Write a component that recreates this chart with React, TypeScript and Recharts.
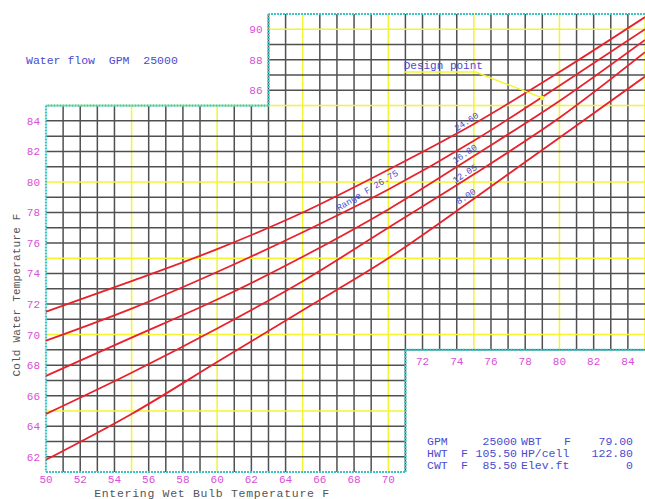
import { Line, LineChart, ReferenceDot, ReferenceLine, XAxis, YAxis } from "recharts";

// entering wet bulb (F) and cold water temp (F) for each range curve, top to bottom
const wbt = [50, 55, 60, 65, 70, 75, 80, 85];
const range1 = [71.5, 73.5, 75.6, 78.0, 80.8, 83.8, 87.2, 90.8];
const range2 = [69.6, 71.7, 74.1, 76.7, 79.5, 82.7, 86.3, 90.0];
const range3 = [67.3, 69.8, 72.3, 75.1, 78.2, 81.7, 85.3, 89.3];
const range4 = [64.8, 67.5, 70.4, 73.5, 77.0, 80.5, 84.2, 88.5];
const range5 = [61.8, 64.8, 68.2, 71.6, 75.0, 78.9, 82.9, 86.9];
const rangeLabels = ["Range F 26.75", "24.60", "16.80", "12.05", "8.00"];

const xTicksLow = [50, 52, 54, 56, 58, 60, 62, 64, 66, 68, 70];
const xTicksHigh = [72, 74, 76, 78, 80, 82, 84];
const yTicksLow = [62, 64, 66, 68, 70, 72, 74, 76, 78, 80, 82, 84];
const yTicksHigh = [86, 88, 90];

// design conditions
const gpm = 25000;
const designWbt = 79;
const hwt = 105.5;
const cwt = 85.5;
const hpPerCell = 122.8;
const elevFt = 0;

const MONO = "'Liberation Mono', 'DejaVu Sans Mono', monospace";
const PINK = "#d84ed8";
const BLUE = "#4a4ad0";
const GRID = "#505050";
const YELLOW = "#f4f430";
const CYAN = "#3cc4c4";
const RED = "#e8222c";

const dotLabel =
    (text: string, dx: number, dy: number, anchor: string, extra: any = {}) =>
    (props: any) => {
        const vb = props.viewBox || {};
        const cx = (vb.x ?? 0) + (vb.width ?? 0) / 2 + dx;
        const cy = (vb.y ?? 0) + (vb.height ?? 0) / 2 + dy;
        const { angle, ...rest } = extra;
        return (
            <text
                x={cx}
                y={cy}
                textAnchor={anchor}
                transform={angle ? `rotate(${angle} ${cx} ${cy})` : undefined}
                fontFamily={MONO}
                fontSize={11}
                fill={PINK}
                {...rest}
            >
                {text}
            </text>
        );
    };

export default function App() {
    const data = wbt.map((x, i) => ({
        x,
        r1: range1[i],
        r2: range2[i],
        r3: range3[i],
        r4: range4[i],
        r5: range5[i],
    }));

    // grid segments clipped to the stepped outline
    const grid: any[] = [];
    for (let x = 51; x <= 85; x++) {
        const y0 = x > 71 ? 69 : 61;
        const y1 = x < 63 ? 85 : 91;
        grid.push(
            <ReferenceLine
                key={"gx" + x}
                segment={[{ x, y: y0 }, { x, y: y1 }]}
                stroke={x % 5 === 0 ? YELLOW : GRID}
                strokeWidth={1.5}
            />
        );
    }
    for (let y = 62; y <= 90; y++) {
        const x0 = y > 85 ? 63 : 50;
        const x1 = y < 69 ? 71 : 85;
        grid.push(
            <ReferenceLine
                key={"gy" + y}
                segment={[{ x: x0, y }, { x: x1, y }]}
                stroke={y % 5 === 0 ? YELLOW : GRID}
                strokeWidth={1.5}
            />
        );
    }

    const outline = [
        [50, 61], [71, 61], [71, 69], [85, 69],
    ];
    const outlineTop = [
        [85, 91], [63, 91], [63, 85], [50, 85], [50, 61],
    ];
    const border: any[] = [];
    [outline, outlineTop].forEach((pts, k) => {
        for (let i = 0; i < pts.length - 1; i++) {
            border.push(
                <ReferenceLine
                    key={`b${k}-${i}`}
                    segment={[
                        { x: pts[i][0], y: pts[i][1] },
                        { x: pts[i + 1][0], y: pts[i + 1][1] },
                    ]}
                    stroke={CYAN}
                    strokeWidth={2.2}
                    strokeDasharray="2 1"
                />
            );
        }
    });

    const xTitle = (props: any) => {
        const vb = props.viewBox;
        return (
            <text x={vb.x + 166} y={vb.y + 24.5} textAnchor="middle" fontFamily={MONO} fontSize={11.5} letterSpacing={0.7} fill="#555">
                Entering Wet Bulb Temperature F
            </text>
        );
    };
    const yTitle = (props: any) => {
        const vb = props.viewBox;
        const cx = vb.x + 20;
        const cy = vb.y + 281;
        return (
            <text x={cx} y={cy} textAnchor="middle" transform={`rotate(-90 ${cx} ${cy})`} fontFamily={MONO} fontSize={11} letterSpacing={0.2} fill="#555">
                Cold Water Temperature F
            </text>
        );
    };

    const tickStyle = { fill: PINK, fontSize: 11, fontFamily: MONO };

    const span = (text: string, top: number, pos: any) => (
        <span
            style={{
                position: "absolute",
                top,
                ...pos,
                whiteSpace: "pre",
                fontFamily: MONO,
                fontSize: 11.5,
                lineHeight: "12px",
                color: BLUE,
            }}
        >
            {text}
        </span>
    );

    return (
        <div style={{ position: "absolute", left: 0, top: 0, width: 645, height: 499, background: "#fff", overflow: "hidden" }}>
            <LineChart width={645} height={499} data={data} margin={{ top: 14, right: 0, bottom: 0, left: 0 }}>
                <XAxis
                    type="number"
                    dataKey="x"
                    domain={[50, 85]}
                    ticks={xTicksLow}
                    interval={0}
                    height={27}
                    axisLine={false}
                    tickLine={false}
                    tickSize={0}
                    tickMargin={3}
                    tick={tickStyle}
                    label={xTitle}
                />
                <YAxis
                    type="number"
                    domain={[61, 91]}
                    ticks={yTicksLow}
                    interval={0}
                    width={46}
                    axisLine={false}
                    tickLine={false}
                    tickSize={0}
                    tickMargin={6}
                    tick={tickStyle}
                    label={yTitle}
                />
                {grid}
                {border}
                {yTicksHigh.map((v) => (
                    <ReferenceDot key={"yt" + v} x={63} y={v} r={1} fill="none" stroke="none" label={dotLabel(String(v), -6, 4, "end")} />
                ))}
                {xTicksHigh.map((v) => (
                    <ReferenceDot key={"xt" + v} x={v} y={69} r={1} fill="none" stroke="none" label={dotLabel(String(v), 0, 15, "middle")} />
                ))}
                <Line dataKey="r1" type="monotone" stroke={RED} strokeWidth={1.8} dot={false} isAnimationActive={false} />
                <Line dataKey="r2" type="monotone" stroke={RED} strokeWidth={1.8} dot={false} isAnimationActive={false} />
                <Line dataKey="r3" type="monotone" stroke={RED} strokeWidth={1.8} dot={false} isAnimationActive={false} />
                <Line dataKey="r4" type="monotone" stroke={RED} strokeWidth={1.8} dot={false} isAnimationActive={false} />
                <Line dataKey="r5" type="monotone" stroke={RED} strokeWidth={1.8} dot={false} isAnimationActive={false} />
                <ReferenceDot x={67.1} y={78.1} r={1} fill="none" stroke="none"
                    label={dotLabel(rangeLabels[0], 0, 0, "start", { angle: -31, fontSize: 9, fill: BLUE })} />
                <ReferenceDot x={74.0} y={83.3} r={1} fill="none" stroke="none"
                    label={dotLabel(rangeLabels[1], 0, 0, "start", { angle: -33, fontSize: 9, fill: BLUE })} />
                <ReferenceDot x={73.9} y={81.2} r={1} fill="none" stroke="none"
                    label={dotLabel(rangeLabels[2], 0, 0, "start", { angle: -33, fontSize: 9, fill: BLUE })} />
                <ReferenceDot x={73.9} y={79.9} r={1} fill="none" stroke="none"
                    label={dotLabel(rangeLabels[3], 0, 0, "start", { angle: -33, fontSize: 9, fill: BLUE })} />
                <ReferenceDot x={74.1} y={78.5} r={1} fill="none" stroke="none"
                    label={dotLabel(rangeLabels[4], 0, 0, "start", { angle: -33, fontSize: 9, fill: BLUE })} />
                {/* design point callout */}
                <ReferenceLine segment={[{ x: 70.9, y: 87.2 }, { x: 75.1, y: 87.2 }]} stroke={YELLOW} strokeWidth={1.4} />
                <ReferenceLine segment={[{ x: 75.1, y: 87.2 }, { x: designWbt, y: cwt }]} stroke={YELLOW} strokeWidth={1.4} />
                <ReferenceDot x={designWbt} y={cwt} r={2.2} fill={YELLOW} stroke="none" />
                <ReferenceDot x={70.9} y={87.2} r={1} fill="none" stroke="none"
                    label={dotLabel("Design point", 0, -3, "start", { fill: BLUE, fontSize: 11 })} />
            </LineChart>
            {span(`Water flow  GPM  ${gpm}`, 55, { left: 26 })}
            {span("GPM", 436, { left: 427 })}
            {span(String(gpm), 436, { right: 645 - 517 })}
            {span("WBT", 436, { left: 521 })}
            {span("F", 436, { left: 564 })}
            {span(designWbt.toFixed(2), 436, { right: 645 - 633 })}
            {span("HWT", 448, { left: 427 })}
            {span("F", 448, { left: 461 })}
            {span(hwt.toFixed(2), 448, { right: 645 - 517 })}
            {span("HP/cell", 448, { left: 521 })}
            {span(hpPerCell.toFixed(2), 448, { right: 645 - 633 })}
            {span("CWT", 460, { left: 427 })}
            {span("F", 460, { left: 461 })}
            {span(cwt.toFixed(2), 460, { right: 645 - 517 })}
            {span("Elev.ft", 460, { left: 521 })}
            {span(String(elevFt), 460, { right: 645 - 633 })}
        </div>
    );
}
